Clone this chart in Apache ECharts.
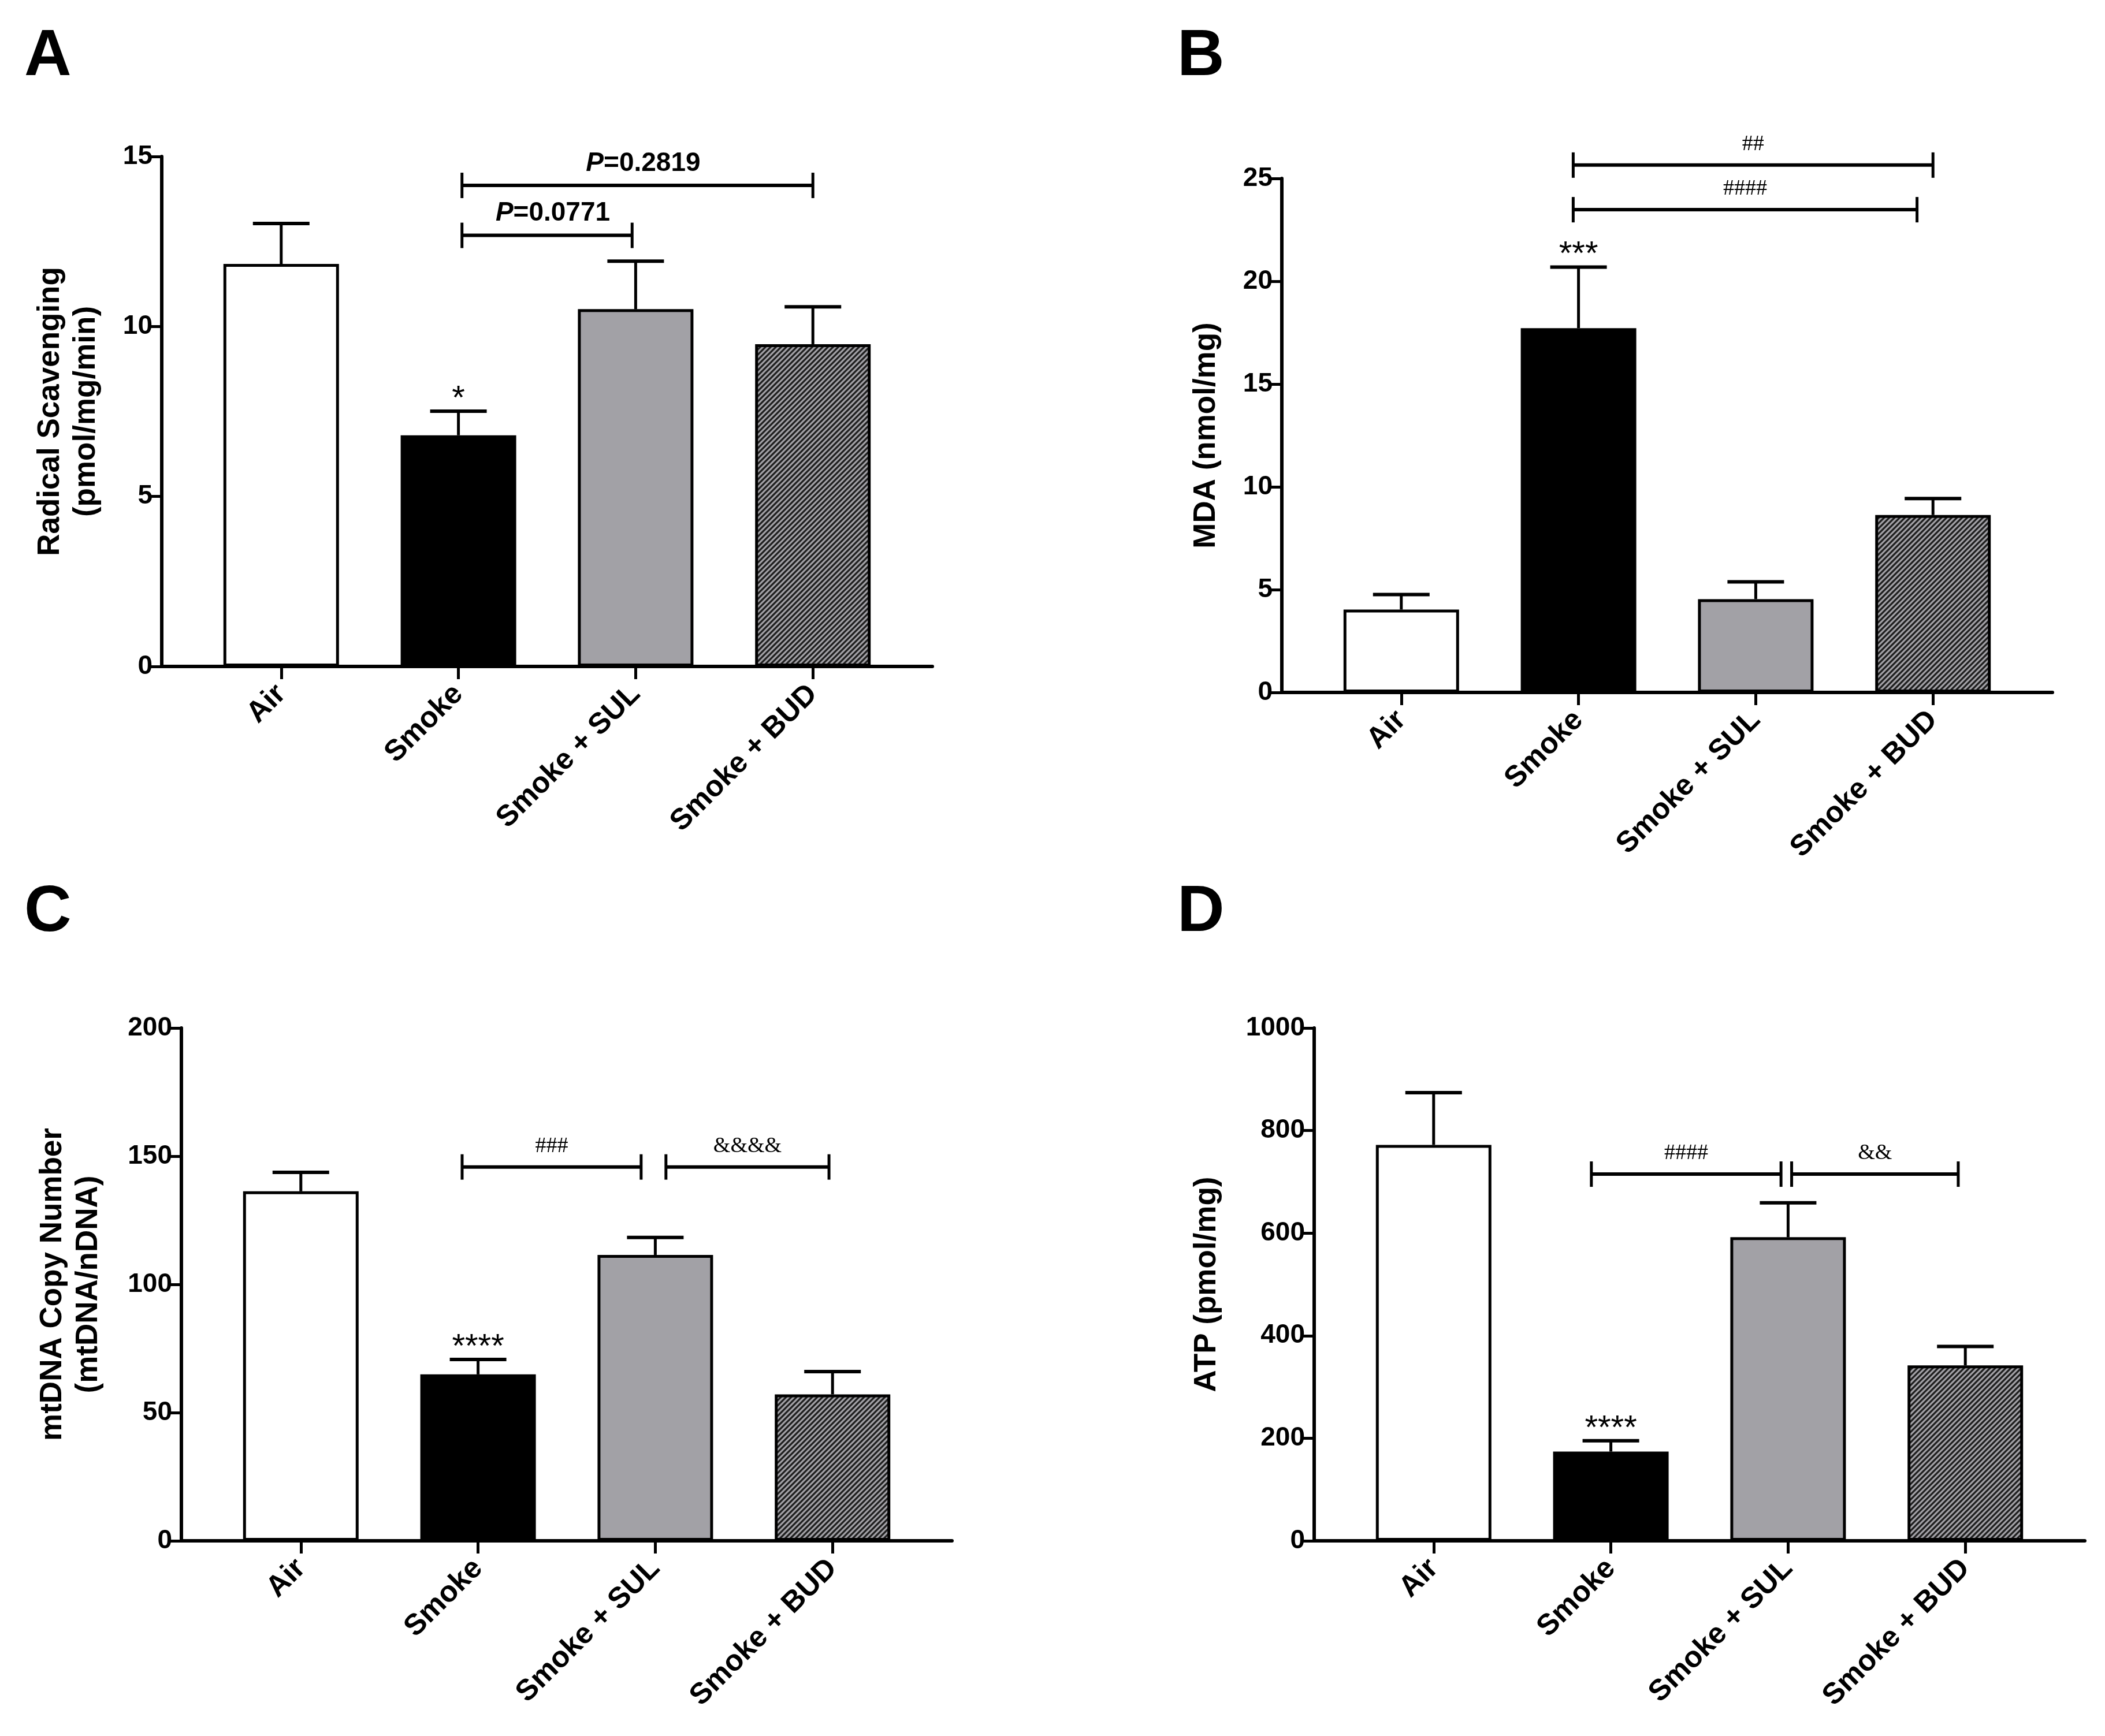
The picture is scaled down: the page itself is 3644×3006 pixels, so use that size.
<!DOCTYPE html>
<html lang="en">
<head>
    <meta charset="UTF-8">
    <title>Figure</title>
    <script src="https://cdn.jsdelivr.net/npm/echarts@6.0.0/dist/echarts.min.js"></script>
    <style>
        html, body { margin: 0; padding: 0; background: #fff; }
        #main { width: 3644px; height: 3006px; }
    </style>
</head>
<body>
<div id="main"></div>
<script>
    /* groups on the x axis */
    var groups = ['Air', 'Smoke', 'Smoke + SUL', 'Smoke + BUD'];

    /* A: radical scavenging */
    var radicalMean = [11.84, 6.80, 10.51, 9.48];
    var radicalSem = [1.19, 0.71, 1.41, 1.10];
    var radicalStars = ['', '*', '', ''];
    var radicalTicks = [0, 5, 10, 15];
    var radicalBrackets = [[1.02, 3.0, 14.15, 'P=0.2819'], [1.02, 1.98, 12.68, 'P=0.0771']];

    /* B: MDA */
    var mdaMean = [4.03, 17.72, 4.54, 8.63];
    var mdaSem = [0.73, 2.97, 0.84, 0.80];
    var mdaStars = ['', '***', '', ''];
    var mdaTicks = [0, 5, 10, 15, 20, 25];
    var mdaBrackets = [[0.97, 3.0, 25.65, '##'], [0.97, 2.91, 23.48, '####']];

    /* C: mtDNA copy number */
    var mtdnaMean = [136.3, 64.9, 111.5, 57.1];
    var mtdnaSem = [7.4, 5.8, 6.8, 8.9];
    var mtdnaStars = ['', '****', '', ''];
    var mtdnaTicks = [0, 50, 100, 150, 200];
    var mtdnaBrackets = [[0.91, 1.92, 145.8, '###'], [2.06, 2.98, 145.8, '&&&&']];

    /* D: ATP */
    var atpMean = [772, 174, 592, 342];
    var atpSem = [102, 21, 67, 37];
    var atpStars = ['', '****', '', ''];
    var atpTicks = [0, 200, 400, 600, 800, 1000];
    var atpBrackets = [[0.89, 1.96, 715, '####'], [2.02, 2.96, 715, '&&']];

    var SANS = "'Liberation Sans', Arial, Helvetica, sans-serif";
    var NARROW = "'Liberation Sans Narrow', 'Arial Narrow', 'Liberation Sans', sans-serif";
    var SERIF = "'Liberation Serif', 'Times New Roman', serif";
    var GRAY = '#a2a1a6';

    function hatchPattern() {
        var s = 9;
        var c = document.createElement('canvas');
        c.width = s; c.height = s;
        var g = c.getContext('2d');
        g.fillStyle = GRAY;
        g.fillRect(0, 0, s, s);
        g.strokeStyle = '#1e1e1e';
        g.lineWidth = 3.2;
        g.beginPath();
        g.moveTo(0, s); g.lineTo(s, 0);
        g.moveTo(-s / 2, s / 2); g.lineTo(s / 2, -s / 2);
        g.moveTo(s / 2, s * 1.5); g.lineTo(s * 1.5, s / 2);
        g.stroke();
        return c;
    }
    var hatch = hatchPattern();
    var fills = ['#ffffff', '#000000', GRAY, {image: hatch, repeat: 'repeat'}];

    var panels = [
        {letter: 'A', mean: radicalMean, sem: radicalSem, stars: radicalStars, ticks: radicalTicks,
         brackets: radicalBrackets, name: 'Radical Scavenging\n(pmol/mg/min)', nameGap: 100,
         grid: {left: 280, top: 271, width: 1334, height: 883}, letterPos: [42, 42], pText: true},
        {letter: 'B', mean: mdaMean, sem: mdaSem, stars: mdaStars, ticks: mdaTicks,
         brackets: mdaBrackets, name: 'MDA (nmol/mg)', nameGap: 100,
         grid: {left: 2219, top: 309, width: 1334, height: 890}, letterPos: [2038, 42]},
        {letter: 'C', mean: mtdnaMean, sem: mtdnaSem, stars: mtdnaStars, ticks: mtdnaTicks,
         brackets: mtdnaBrackets, name: 'mtDNA Copy Number\n(mtDNA/nDNA)', nameGap: 130,
         grid: {left: 314, top: 1780, width: 1334, height: 888}, letterPos: [42, 1524]},
        {letter: 'D', mean: atpMean, sem: atpSem, stars: atpStars, ticks: atpTicks,
         brackets: atpBrackets, name: 'ATP (pmol/mg)', nameGap: 155,
         grid: {left: 2275, top: 1780, width: 1334, height: 888}, letterPos: [2038, 1524]}
    ];

    var option = {
        backgroundColor: '#fff',
        animation: false,
        title: [],
        grid: [],
        xAxis: [],
        yAxis: [],
        series: []
    };

    panels.forEach(function (p, i) {
        option.title.push({
            text: p.letter, left: p.letterPos[0], top: p.letterPos[1], padding: 0,
            textStyle: {fontFamily: SANS, fontWeight: 'bold', fontSize: 113, color: '#000'}
        });
        option.grid.push(p.grid);
        option.xAxis.push({
            type: 'value', gridIndex: i, min: -0.674, max: 3.674,
            axisLine: {show: true, onZero: false, lineStyle: {color: '#000', width: 6}},
            axisTick: {show: true, customValues: [0, 1, 2, 3], length: 22, lineStyle: {color: '#000', width: 5}},
            axisLabel: {
                show: true, customValues: [0, 1, 2, 3], rotate: 45, margin: 40,
                fontFamily: SANS, fontWeight: 'bold', fontSize: 51, color: '#000',
                formatter: function (v) { return groups[Math.round(v)]; }
            },
            splitLine: {show: false}
        });
        option.yAxis.push({
            type: 'value', gridIndex: i,
            min: p.ticks[0], max: p.ticks[p.ticks.length - 1], interval: p.ticks[1] - p.ticks[0],
            name: p.name, nameLocation: 'middle', nameGap: p.nameGap,
            nameTextStyle: {fontFamily: SANS, fontWeight: 'bold', fontSize: 53, lineHeight: 62, color: '#000'},
            axisLine: {show: true, onZero: false, lineStyle: {color: '#000', width: 6}},
            axisTick: {show: true, length: 22, lineStyle: {color: '#000', width: 5}},
            axisLabel: {margin: 16, fontFamily: SANS, fontWeight: 'bold', fontSize: 46, color: '#000',
                formatter: function (v) { return String(v); }},
            splitLine: {show: false}
        });

        option.series.push({
            type: 'bar', xAxisIndex: i, yAxisIndex: i, barWidth: 200, z: 2,
            data: p.mean.map(function (v, k) {
                return {value: [k, v], itemStyle: {color: fills[k], borderColor: '#000', borderWidth: 5}};
            })
        });

        option.series.push({
            type: 'custom', xAxisIndex: i, yAxisIndex: i, z: 3, silent: true,
            data: p.mean.map(function (v, k) { return [k, v, p.sem[k]]; }),
            renderItem: function (params, api) {
                var x = api.value(0), top = api.value(1), err = api.value(2);
                var base = api.coord([x, top]);
                var tip = api.coord([x, top + err]);
                var kids = [
                    {type: 'line', shape: {x1: base[0], y1: base[1], x2: tip[0], y2: tip[1]},
                     style: {stroke: '#000', lineWidth: 5}},
                    {type: 'line', shape: {x1: tip[0] - 49, y1: tip[1], x2: tip[0] + 49, y2: tip[1]},
                     style: {stroke: '#000', lineWidth: 6}}
                ];
                var star = p.stars[params.dataIndex];
                if (star) {
                    kids.push({type: 'text', x: tip[0], y: tip[1] - 20,
                        style: {text: star, align: 'center', verticalAlign: 'middle',
                            fontFamily: SANS, fontSize: 58, fill: '#000'}});
                }
                return {type: 'group', children: kids};
            }
        });

        option.series.push({
            type: 'custom', xAxisIndex: i, yAxisIndex: i, z: 3, silent: true,
            data: p.brackets.map(function (b) { return [b[0], b[1], b[2]]; }),
            renderItem: function (params, api) {
                var a = api.coord([api.value(0), api.value(2)]);
                var b = api.coord([api.value(1), api.value(2)]);
                var label = p.brackets[params.dataIndex][3];
                var h = 22;
                var txt;
                if (p.pText) {
                    txt = {type: 'text', x: (a[0] + b[0]) / 2 + 10, y: a[1] - 38,
                        style: {text: '{i|P}' + label.slice(1), align: 'center', verticalAlign: 'middle',
                            fontFamily: NARROW, fontWeight: 'bold', fontSize: 46, fill: '#000',
                            rich: {i: {fontFamily: NARROW, fontWeight: 'bold', fontStyle: 'italic', fontSize: 46, fill: '#000'}}}};
                } else {
                    txt = {type: 'text', x: (a[0] + b[0]) / 2, y: a[1] - 36,
                        style: {text: label, align: 'center', verticalAlign: 'middle',
                            fontFamily: SERIF, fontSize: 38, fill: '#000'}};
                }
                return {type: 'group', children: [
                    {type: 'line', shape: {x1: a[0], y1: a[1], x2: b[0], y2: b[1]}, style: {stroke: '#000', lineWidth: 6}},
                    {type: 'line', shape: {x1: a[0], y1: a[1] - h, x2: a[0], y2: a[1] + h}, style: {stroke: '#000', lineWidth: 5}},
                    {type: 'line', shape: {x1: b[0], y1: b[1] - h, x2: b[0], y2: b[1] + h}, style: {stroke: '#000', lineWidth: 5}},
                    txt
                ]};
            }
        });
    });

    var chart = echarts.init(document.getElementById('main'));
    chart.setOption(option);
</script>
</body>
</html>
